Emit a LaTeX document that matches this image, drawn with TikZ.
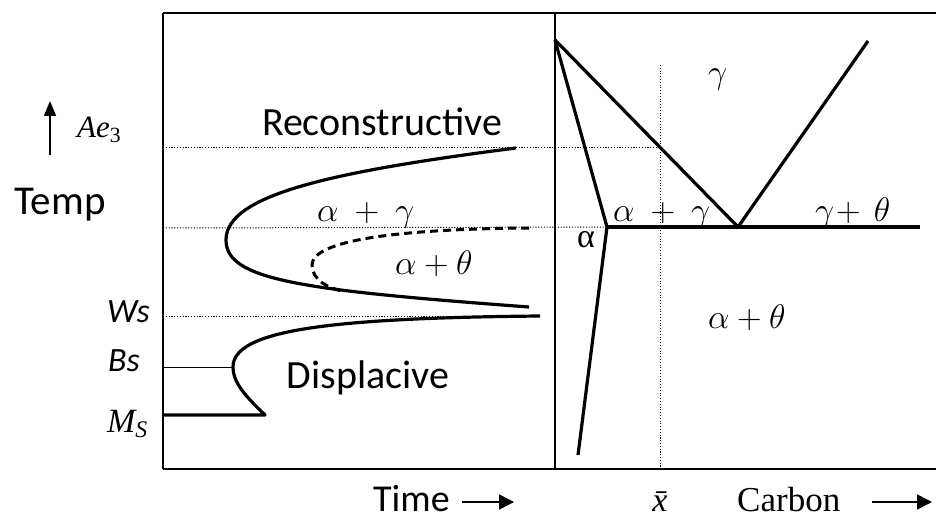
\documentclass[tikz,border=0pt]{standalone}
\usepackage{fix-cm}
\usepackage{fontspec}
\setmainfont{Liberation Serif}
\setsansfont{Carlito}
\usetikzlibrary{arrows.meta}
\begin{document}
\begin{tikzpicture}[x=1pt,y=-1pt,
  thickline/.style={line width=3.2pt, line join=round},
  dotline/.style={line width=1pt, dash pattern=on 1.1pt off 1.7pt},
  dashline/.style={line width=3pt, dash pattern=on 8pt off 5pt},
  frameline/.style={line width=2.6pt},
  axisline/.style={line width=1.5pt},
  sanslabel/.style={font=\sffamily\fontsize{40}{46}\selectfont, inner sep=0pt},
  sansital/.style={font=\sffamily\itshape\fontsize{34}{40}\selectfont, inner sep=0pt},
  seriflabel/.style={font=\fontsize{34}{40}\selectfont, inner sep=0pt},
  mathlabel/.style={font=\fontsize{34}{40}\selectfont, inner sep=0pt},
  headarrow/.style={line width=1.5pt, -{Triangle[length=15pt,width=15pt]}}]
\useasboundingbox (0,0) rectangle (936,518);

% frame
\coordinate (tl) at (163,13);
\coordinate (tr) at (936,13);
\coordinate (bl) at (163,469);
\coordinate (br) at (936,469);
\coordinate (mt) at (555,13);
\coordinate (mb) at (555,469);
\draw[frameline] (tl) -- (tr);
\draw[frameline] (bl) -- (br);
\draw[axisline] (tl) -- (bl);
\draw[axisline] (mt) -- (mb);

% dotted guide lines
\coordinate (ae0) at (163,148);
\coordinate (ae1) at (660,148);
\coordinate (eu0) at (163,228);
\coordinate (ws0) at (163,316);
\coordinate (ws1) at (540,316);
\coordinate (xb0) at (660,65);
\coordinate (xb1) at (660,469);
\draw[dotline] (ae0) -- (ae1);
\draw[dotline] (ws0) -- (ws1);
\draw[dotline] (xb0) -- (xb1);

% right panel: phase diagram
\coordinate (A) at (555,40);
\coordinate (acorner) at (607,227);
\coordinate (E) at (738,227);
\coordinate (Rtop) at (868,41);
\coordinate (Rend) at (920,227);
\coordinate (abot) at (578,455);
\draw[dotline] (eu0) -- (acorner);
\draw[thickline] (A) -- (acorner) -- (abot);
\draw[thickline] (A) -- (E) -- (Rtop);
\draw[thickline] (acorner) -- (Rend);

% left panel: TTT curves
\coordinate (c1) at (516,148);
\coordinate (c2) at (226,240);
\coordinate (c3) at (529,307);
\draw[thickline] (c1) .. controls (330,172) and (226,195) .. (c2)
  .. controls (226,280) and (300,290) .. (c3);

\coordinate (d1) at (529,228);
\coordinate (d2) at (312,265);
\coordinate (d3) at (342,291);
\draw[dashline] (d1) .. controls (400,229) and (312,240) .. (d2)
  .. controls (312,280) and (328,288) .. (d3);

\coordinate (b1) at (540,316);
\coordinate (bnose) at (233,367);
\coordinate (b3) at (265,415);
\coordinate (ms0) at (163,415);
\coordinate (bs0) at (163,367);
\draw[thickline] (b1) .. controls (330,318) and (233,330) .. (bnose)
  .. controls (233,385) and (250,400) .. (b3) -- (ms0);
\draw[line width=1pt] (bs0) -- (bnose);

% labels
\node[sanslabel, anchor=base] (recon) at (382,136) {Reconstructive};
\node[sanslabel, anchor=base, font=\sffamily\fontsize{41}{46}\selectfont] (temp) at (60,215) {Temp};
\node[sanslabel, anchor=base] (displ) at (368,388) {Displacive};
\node[sanslabel, anchor=base west, font=\sffamily\fontsize{38}{44}\selectfont] (time) at (373,511) {Time};
\coordinate (ta0) at (462,502);
\coordinate (ta1) at (514,502);
\draw[headarrow] (ta0) -- (ta1);

\node[seriflabel, anchor=base west, font=\fontsize{35}{40}\selectfont] (carbon) at (737,511) {Carbon};
\coordinate (ca0) at (872,502);
\coordinate (ca1) at (932,502);
\draw[headarrow] (ca0) -- (ca1);
\node[seriflabel, anchor=base] (xbar) at (660,511) {\itshape \=x};

\node[sansital, anchor=base east] (wsl) at (150,323) {Ws};
\node[sansital, anchor=base east] (bsl) at (140,371) {Bs};
\node[seriflabel, anchor=base east, font=\itshape\fontsize{34}{40}\selectfont] (msl) at (148,432) {M\textsubscript{S}};
\node[seriflabel, anchor=base west, font=\itshape\fontsize{31}{36}\selectfont] (ael) at (77,138) {Ae\textsubscript{\upshape 3}};
\coordinate (ua0) at (50,155);
\coordinate (ua1) at (50,101);
\draw[line width=1.5pt, -{Triangle[length=15pt,width=12pt]}] (ua0) -- (ua1);

\node[mathlabel, anchor=base west] (lag) at (317,222) {$\alpha\ +\ \gamma$};
\node[mathlabel, anchor=base west] (lat) at (395,275) {$\alpha+\theta$};
\node[mathlabel, anchor=base west] (rg) at (708,84) {$\gamma$};
\node[mathlabel, anchor=base west] (rag) at (613,222) {$\alpha\ +\ \gamma$};
\node[mathlabel, anchor=base west] (rgt) at (815,222) {$\gamma\!+\,\theta$};
\node[mathlabel, anchor=base west] (rat) at (708,328) {$\alpha+\theta$};
\node[seriflabel, anchor=base west] (ral) at (577,248) {α};
\end{tikzpicture}
\end{document}
